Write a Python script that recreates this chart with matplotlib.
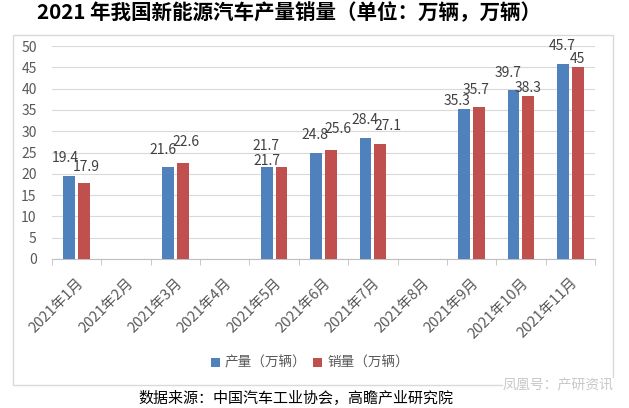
import numpy as np
import matplotlib.pyplot as plt
from matplotlib.patches import Rectangle

plt.rcParams['font.family'] = ['Noto Sans CJK SC', 'DejaVu Sans']

months = ['2021年1月', '2021年2月', '2021年3月', '2021年4月', '2021年5月', '2021年6月',
          '2021年7月', '2021年8月', '2021年9月', '2021年10月', '2021年11月']
production = [19.4, np.nan, 21.6, np.nan, 21.7, 24.8, 28.4, np.nan, 35.3, 39.7, 45.7]
sales = [17.9, np.nan, 22.6, np.nan, 21.7, 25.6, 27.1, np.nan, 35.7, 38.3, 45]

# label nudges (px: dx, height of label centre above bar top), like Excel placed them
prod_lbl = [(-4, 18), None, (-5, 17), None, (-1, 21), (-1, 18), (-1, 18), None, (-7, 8), (-5, 17), (-1, 18)]
sales_lbl = [(2, 16), None, (3, 21), None, (-15, 6), (7, 21), (8, 18), None, (-3, 17), (0, 8), (0, 8)]

BLUE = '#4F81BD'
RED = '#C0504D'
GREY = '#595959'

fig = plt.figure(figsize=(6.29, 4.08), dpi=100)
ax = fig.add_axes([52 / 629, 149 / 408, 543 / 629, 213 / 408])

# outer chart frame
fig.patches.append(Rectangle((13 / 629, 23 / 408), 600 / 629, 350 / 408,
                             transform=fig.transFigure, fill=False,
                             edgecolor='#d9d9d9', linewidth=1))

x = np.arange(len(months))
w = 0.24
b1 = ax.bar(x - 0.15, production, w, color=BLUE, label='产量（万辆）', zorder=3)
b2 = ax.bar(x + 0.15, sales, w, color=RED, label='销量（万辆）', zorder=3)

for bars, vals, offs in ((b1, production, prod_lbl), (b2, sales, sales_lbl)):
    for rect, v, off in zip(bars, vals, offs):
        if off is None:
            continue
        ax.annotate(f'{v:g}', (rect.get_x() + rect.get_width() / 2, v),
                    xytext=(off[0] * 0.72, off[1] * 0.72), textcoords='offset points',
                    ha='center', va='center', fontsize=10, color='#404040', zorder=4)

ax.set_xlim(-0.5, len(months) - 0.5)
ax.set_ylim(0, 50)
ax.set_yticks(range(0, 51, 5))
ax.grid(axis='y', color='#d9d9d9', linewidth=0.8, zorder=0)

ax.set_xticks(x)
ax.set_xticklabels(months, rotation=45, ha='right', rotation_mode='anchor',
                   fontsize=10.5, color=GREY)
ax.set_xticks(np.arange(-0.5, len(months)), minor=True)
ax.tick_params(axis='x', which='major', length=0, pad=12)
ax.tick_params(axis='x', which='minor', length=4, color='#bfbfbf', direction='out')
ax.tick_params(axis='y', length=0, labelsize=10, labelcolor=GREY, pad=11)

for s in ('top', 'right', 'left'):
    ax.spines[s].set_visible(False)
ax.spines['bottom'].set_color('#bfbfbf')

fig.text(289 / 629, 1 - 13 / 408, '2021 年我国新能源汽车产量销量（单位：万辆，万辆）',
         ha='center', va='center', fontsize=14.8, fontweight='bold', color='black')

fig.legend(loc='center', bbox_to_anchor=(310 / 629, 1 - 363 / 408), ncol=2,
           frameon=False, fontsize=9.8, handlelength=0.65, handleheight=0.65,
           handletextpad=0.35, columnspacing=0.5, labelcolor=GREY)

fig.text(296 / 629, 1 - 398 / 408, '数据来源：中国汽车工业协会，高瞻产业研究院',
         ha='center', va='center', fontsize=10.8, color='black')
fig.text(558 / 629, 1 - 385 / 408, '凤凰号：产研资讯',
         ha='center', va='center', fontsize=10, color='#c8c8c8',
         bbox=dict(facecolor='white', edgecolor='none', pad=0))

fig.savefig('out.png', dpi=100)
